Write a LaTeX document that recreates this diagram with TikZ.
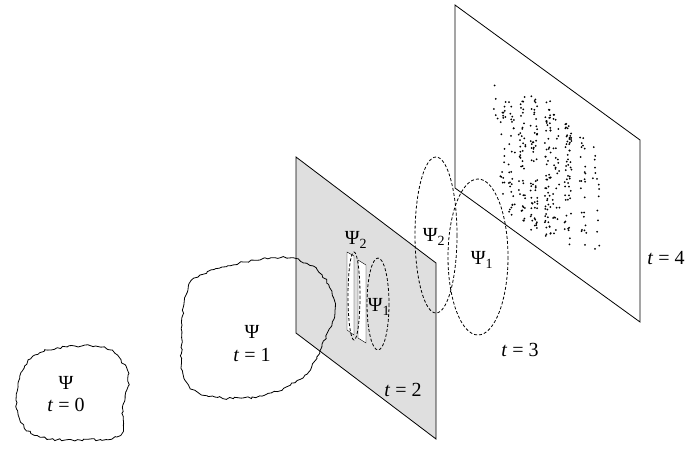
\documentclass[tikz,border=0pt]{standalone}
\usepackage{fontspec}
\setmainfont{Liberation Serif}
\usetikzlibrary{decorations.pathmorphing}
\begin{document}
\begin{tikzpicture}[x=1pt,y=-1pt,
  lbl/.style={font=\fontsize{20}{22}\selectfont,inner sep=1pt},
  wave/.style={dashed,thick,dash pattern=on 3pt off 2pt},
  blob/.style={thick,decorate,decoration={random steps,segment length=3pt,amplitude=1.2pt}}]
\useasboundingbox (0,0) rectangle (700,460);
\pgfmathsetseed{7}
% plane t=2
\draw[thick,fill=gray!25] (296,157) -- (436,263) -- (436,439) -- (296,333) -- cycle;
% slits
\draw[fill=white] (347,252) -- (354,256) -- (354,335) -- (347,330) -- cycle;
\draw[fill=white] (358,260) -- (366,265) -- (366,343) -- (358,338) -- cycle;
\draw[wave] (354,296) ellipse (6 and 44);
\draw[wave] (378,304) ellipse (11 and 46);
% screen t=4
\draw[thick,fill=white] (455,5) -- (640,140) -- (640,322) -- (455,188) -- cycle;
\foreach \cx/\n/\ya/\yb in {495/5/80/120, 503/20/95/200, 512/30/100/215, 522/45/95/225, 534/60/95/230, 548/60/100/240, 556/30/110/235, 568/55/120/245, 583/25/130/245, 596/15/145/250}{
  \foreach \i in {1,...,\n}{
    \pgfmathsetmacro\px{\cx+rand*3.5}
    \pgfmathsetmacro\py{\ya+rnd*(\yb-\ya)}
    \fill (\px,\py) circle (1);
  }
}
% big ellipses
\draw[wave] (436,235) ellipse (21 and 78);
\draw[wave] (478,257) ellipse (30 and 78);
% blobs
\draw[blob] plot[smooth cycle,tension=0.6] coordinates {(35,355) (75,346) (110,350) (128,375) (123,405) (120,435) (80,440) (40,437) (20,420) (18,385)};
\draw[blob] plot[smooth cycle,tension=0.6] coordinates {(200,275) (245,262) (290,258) (322,275) (335,310) (322,345) (305,375) (265,395) (215,397) (185,380) (182,325) (188,290)};
% labels
\node[lbl] (p0) at (66,383) {Ψ};
\node[lbl] (t0) at (66,405) {\textit{t} = 0};
\node[lbl] (p1) at (252,332) {Ψ};
\node[lbl] (t1) at (252,355) {\textit{t} = 1};
\node[lbl] (t2) at (403,390) {\textit{t} = 2};
\node[lbl] (t3) at (520,350) {\textit{t} = 3};
\node[lbl] (t4) at (666,258) {\textit{t} = 4};
\node[lbl] (s2) at (356,240) {Ψ\textsubscript{2}};
\node[lbl] (s1) at (379,307) {Ψ\textsubscript{1}};
\node[lbl] (b2) at (434,237) {Ψ\textsubscript{2}};
\node[lbl] (b1) at (482,260) {Ψ\textsubscript{1}};
\end{tikzpicture}
\end{document}
